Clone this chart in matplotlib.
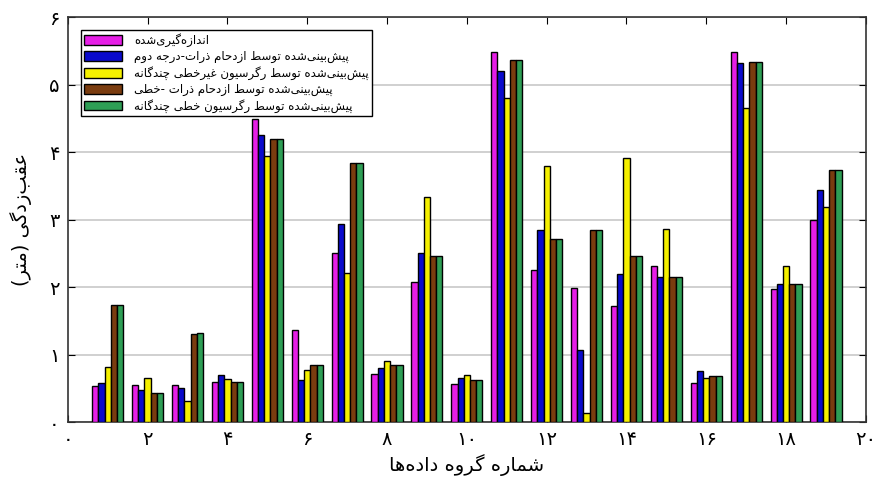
import matplotlib
matplotlib.use("Agg")
import matplotlib.pyplot as plt
import numpy as np

# ---------------- data ----------------
groups = list(range(1, 20))
measured = [0.54, 0.55, 0.55, 0.59, 4.49, 1.37, 2.50, 0.71, 2.07, 0.57,
            5.49, 2.25, 1.99, 1.72, 2.32, 0.58, 5.49, 1.97, 2.99]
pso_quad = [0.58, 0.48, 0.50, 0.70, 4.25, 0.63, 2.94, 0.80, 2.50, 0.65,
            5.20, 2.84, 1.07, 2.20, 2.15, 0.75, 5.32, 2.04, 3.44]
nonlin_reg = [0.81, 0.65, 0.31, 0.64, 3.95, 0.77, 2.21, 0.91, 3.33, 0.70,
              4.81, 3.79, 0.14, 3.91, 2.86, 0.66, 4.65, 2.32, 3.18]
pso_lin = [1.74, 0.43, 1.31, 0.59, 4.19, 0.85, 3.84, 0.84, 2.46, 0.62,
           5.36, 2.72, 2.85, 2.46, 2.15, 0.68, 5.34, 2.04, 3.73]
lin_reg = [1.74, 0.43, 1.32, 0.59, 4.19, 0.85, 3.84, 0.84, 2.46, 0.62,
           5.36, 2.72, 2.85, 2.46, 2.15, 0.68, 5.34, 2.04, 3.73]

series_labels = [
    "اندازه‌گیری‌شده",
    "پیش‌بینی‌شده توسط ازدحام ذرات-درجه دوم",
    "پیش‌بینی‌شده توسط رگرسیون غیرخطی چندگانه",
    "پیش‌بینی‌شده توسط ازدحام ذرات -خطی",
    "پیش‌بینی‌شده توسط رگرسیون خطی چندگانه",
]
x_label = "شماره گروه داده‌ها"
y_label = "عقب‌زدگی (متر)"
x_ticks = list(range(0, 21, 2))
y_ticks = list(range(0, 7))

# ---------------- simple Persian shaping ----------------
FORMS = {  # iso, fin, ini, med  (None for right-joining letters)
    'ا': (0xFE8D, 0xFE8E, None, None),
    'آ': (0xFE81, 0xFE82, None, None),
    'ب': (0xFE8F, 0xFE90, 0xFE91, 0xFE92),
    'ت': (0xFE95, 0xFE96, 0xFE97, 0xFE98),
    'ث': (0xFE99, 0xFE9A, 0xFE9B, 0xFE9C),
    'ج': (0xFE9D, 0xFE9E, 0xFE9F, 0xFEA0),
    'ح': (0xFEA1, 0xFEA2, 0xFEA3, 0xFEA4),
    'خ': (0xFEA5, 0xFEA6, 0xFEA7, 0xFEA8),
    'د': (0xFEA9, 0xFEAA, None, None),
    'ذ': (0xFEAB, 0xFEAC, None, None),
    'ر': (0xFEAD, 0xFEAE, None, None),
    'ز': (0xFEAF, 0xFEB0, None, None),
    'س': (0xFEB1, 0xFEB2, 0xFEB3, 0xFEB4),
    'ش': (0xFEB5, 0xFEB6, 0xFEB7, 0xFEB8),
    'ص': (0xFEB9, 0xFEBA, 0xFEBB, 0xFEBC),
    'ض': (0xFEBD, 0xFEBE, 0xFEBF, 0xFEC0),
    'ط': (0xFEC1, 0xFEC2, 0xFEC3, 0xFEC4),
    'ظ': (0xFEC5, 0xFEC6, 0xFEC7, 0xFEC8),
    'ع': (0xFEC9, 0xFECA, 0xFECB, 0xFECC),
    'غ': (0xFECD, 0xFECE, 0xFECF, 0xFED0),
    'ف': (0xFED1, 0xFED2, 0xFED3, 0xFED4),
    'ق': (0xFED5, 0xFED6, 0xFED7, 0xFED8),
    'ل': (0xFEDD, 0xFEDE, 0xFEDF, 0xFEE0),
    'م': (0xFEE1, 0xFEE2, 0xFEE3, 0xFEE4),
    'ن': (0xFEE5, 0xFEE6, 0xFEE7, 0xFEE8),
    'ه': (0xFEE9, 0xFEEA, 0xFEEB, 0xFEEC),
    'و': (0xFEED, 0xFEEE, None, None),
    'پ': (0xFB56, 0xFB57, 0xFB58, 0xFB59),
    'چ': (0xFB7A, 0xFB7B, 0xFB7C, 0xFB7D),
    'ژ': (0xFB8A, 0xFB8B, None, None),
    'ک': (0xFB8E, 0xFB8F, 0xFB90, 0xFB91),
    'گ': (0xFB92, 0xFB93, 0xFB94, 0xFB95),
    'ی': (0xFBFC, 0xFBFD, 0xFBFE, 0xFBFF),
}
MIRROR = {'(': ')', ')': '('}


def shape(text):
    chars = list(text)
    out = []
    n = len(chars)
    for i, c in enumerate(chars):
        if c == '\u200c':
            continue
        if c not in FORMS:
            out.append(MIRROR.get(c, c))
            continue
        f = FORMS[c]
        prev = chars[i - 1] if i > 0 else None
        nxt = chars[i + 1] if i + 1 < n else None
        join_prev = prev in FORMS and FORMS[prev][2] is not None
        join_next = nxt in FORMS and f[2] is not None
        if join_prev and join_next:
            code = f[3]
        elif join_prev:
            code = f[1]
        elif join_next:
            code = f[2]
        else:
            code = f[0]
        out.append(chr(code))
    return ''.join(reversed(out))


def fa_digits(v):
    return ''.join(chr(0x06F0 + int(d)) if d.isdigit() else d for d in str(v))


# ---------------- plot ----------------
plt.rcParams['font.family'] = ['DejaVu Sans']
fig = plt.figure(figsize=(8.8, 4.78), dpi=100)
ax = fig.add_axes([0.077, 0.117, 0.907, 0.847])

colors = ['#e61ee6', '#0a0acc', '#f5f000', '#7a3c0f', '#2e9e55']
data = [measured, pso_quad, nonlin_reg, pso_lin, lin_reg]
n_series = len(data)
group_w = 0.78
bar_w = group_w / n_series
x = np.array(groups, dtype=float)
handles = []
for k, (vals, col) in enumerate(zip(data, colors)):
    offs = (k - (n_series - 1) / 2) * bar_w
    h = ax.bar(x + offs, vals, width=bar_w, color=col,
               edgecolor='black', linewidth=1.0, zorder=3)
    handles.append(h)

ax.set_xlim(0, 20)
ax.set_ylim(0, 6)
ax.set_xticks(x_ticks)
ax.set_xticklabels([fa_digits(t) for t in x_ticks], fontsize=14)
ax.set_yticks(y_ticks)
ax.set_yticklabels([fa_digits(t) for t in y_ticks], fontsize=14)
ax.tick_params(direction='in', top=True, right=True, length=5, width=0.8,
               pad=6)
ax.yaxis.grid(True, color='#c8c8c8', linewidth=1.2, zorder=0)
ax.set_axisbelow(True)
for s in ax.spines.values():
    s.set_linewidth(1.2)
    s.set_color('#333333')

ax.set_xlabel(shape(x_label), fontsize=14, labelpad=3)
ax.set_ylabel(shape(y_label), fontsize=14, labelpad=12)

leg = ax.legend(handles, [shape(s) for s in series_labels], loc='upper left',
                bbox_to_anchor=(0.009, 0.984), fontsize=8.5, frameon=True,
                fancybox=False, edgecolor='black', framealpha=1,
                handlelength=3.2, handleheight=0.9, labelspacing=0.25,
                borderpad=0.3, handletextpad=1.0)
leg.get_frame().set_linewidth(1.0)

fig.savefig('out.png', dpi=100)
